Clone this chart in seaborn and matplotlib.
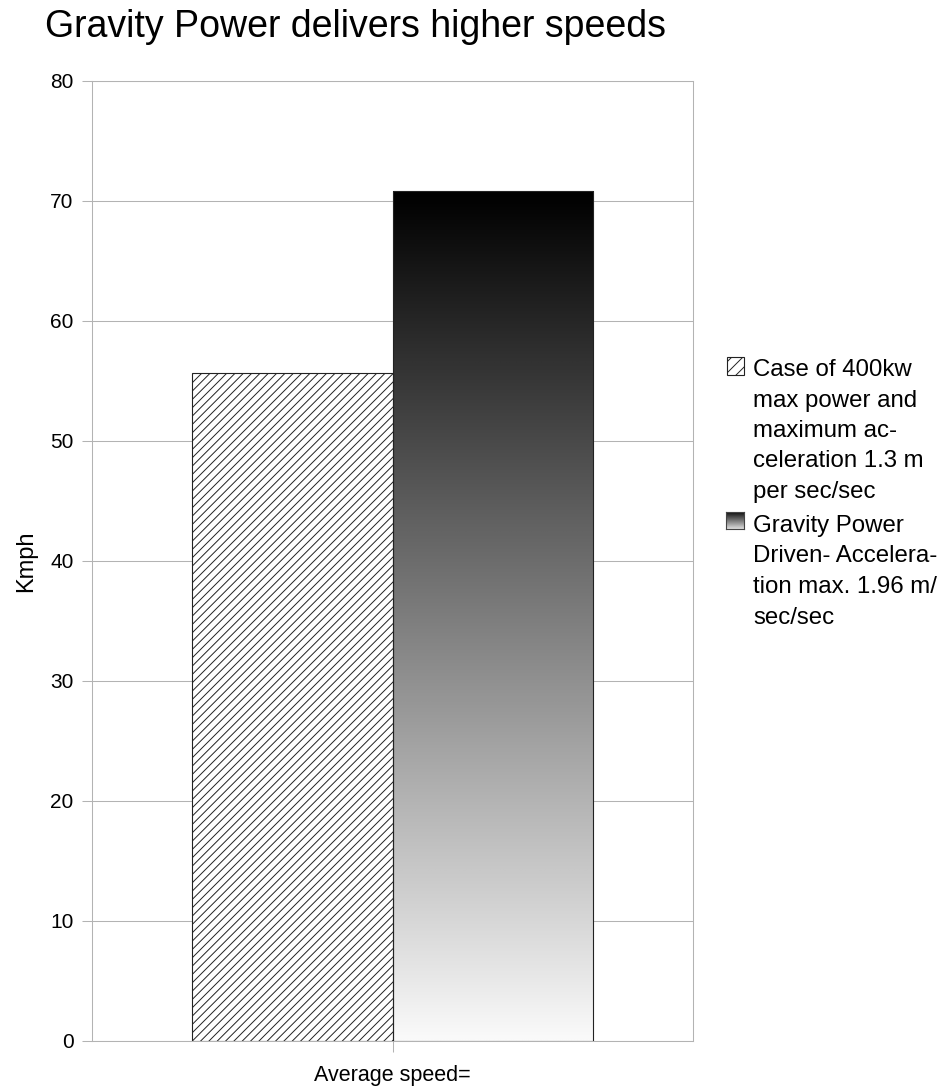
import numpy as np
import pandas as pd
import seaborn as sns
import matplotlib.pyplot as plt
from matplotlib.patches import Rectangle
from matplotlib.colors import LinearSegmentedColormap

# Chart data
title = "Gravity Power delivers higher speeds"
categories = ["Average speed="]
series = [
    "Case of 400kw max power and maximum acceleration 1.3 m per sec/sec",
    "Gravity Power Driven- Acceleration max. 1.96 m/sec/sec",
]
speeds = [55.7, 70.8]
y_label = "Kmph"
y_ticks = [0, 10, 20, 30, 40, 50, 60, 70, 80]
legend_lines = [
    ["Case of 400kw", "max power and", "maximum ac-", "celeration 1.3 m", "per sec/sec"],
    ["Gravity Power", "Driven- Accelera-", "tion max. 1.96 m/", "sec/sec"],
]

sns.set_theme(style="white")
plt.rcParams["font.family"] = ["Liberation Sans", "DejaVu Sans"]
plt.rcParams["hatch.linewidth"] = 0.7

W, H = 945, 1091
GRID = "#b3b3b3"
fig = plt.figure(figsize=(W / 100, H / 100), dpi=100)
ax = fig.add_axes([92 / W, 1 - 1041 / H, 601 / W, 960 / H])

df = pd.DataFrame({
    "category": categories * len(series),
    "series": series,
    "speed": speeds,
})
sns.barplot(data=df, x="category", y="speed", hue="series", hue_order=series,
            width=2 / 3, palette=["white", "white"], saturation=1,
            edgecolor="#222222", linewidth=0.8, legend=False, ax=ax, zorder=2)

bars = sorted(ax.patches, key=lambda p: p.get_x())
hatched, graded = bars[0], bars[1]
hatched.set_hatch("////")
hatched.set_facecolor("white")

# vertical gradient clipped to the second bar: light at the base, black at the top
gray_cmap = LinearSegmentedColormap.from_list("bw", ["#000000", "#fafafa"])
x0, w, h = graded.get_x(), graded.get_width(), graded.get_height()
grad = np.linspace(1, 0, 512).reshape(-1, 1)
im = ax.imshow(grad, extent=[x0, x0 + w, 0, h], origin="lower", cmap=gray_cmap,
               aspect="auto", interpolation="bilinear", zorder=1.5, vmin=0, vmax=1)
im.set_clip_path(graded)
graded.set_facecolor("none")

ax.set_xlim(-0.5, 0.5)
ax.set_ylim(0, 80)
ax.set_yticks(y_ticks)
ax.set_axisbelow(True)
ax.yaxis.grid(True, color=GRID, linewidth=0.75)
ax.xaxis.grid(False)
for s in ax.spines.values():
    s.set_visible(True)
    s.set_color(GRID)
    s.set_linewidth(0.75)

ax.tick_params(axis="y", left=True, length=7.2, width=0.75, color=GRID,
               pad=6, labelsize=15, labelcolor="black")
ax.tick_params(axis="x", bottom=True, length=8, width=0.75, color=GRID,
               pad=9, labelsize=15.5, labelcolor="black")
ax.set_xlabel("")
ax.set_ylabel(y_label, fontsize=17, color="black")
ax.yaxis.set_label_coords(-0.0915, 0.5)

fig.text(45 / W, 1 - 37 / H, title, fontsize=27, va="baseline", ha="left", color="black")

# legend drawn beside the plot area
line_step = 30.5
first_baselines = [376, 532]
for lines, base in zip(legend_lines, first_baselines):
    for i, line in enumerate(lines):
        fig.text(753 / W, 1 - (base + i * line_step) / H, line, fontsize=17.3,
                 va="baseline", ha="left", color="black")

key1 = Rectangle((727 / W, 1 - 375 / H), 17 / W, 18 / H, transform=fig.transFigure,
                 facecolor="white", edgecolor="#222222", hatch="///", linewidth=0.8)
fig.add_artist(key1)

kax = fig.add_axes([726 / W, 1 - 529 / H, 18 / W, 17 / H])
kax.imshow(np.linspace(0, 1, 64).reshape(-1, 1), cmap=LinearSegmentedColormap.from_list(
    "k", ["#111111", "#dddddd"]), aspect="auto", vmin=0, vmax=1)
kax.set_xticks([])
kax.set_yticks([])
for s in kax.spines.values():
    s.set_visible(True)
    s.set_color("#444444")
    s.set_linewidth(0.8)

fig.savefig("out.png", dpi=100)
